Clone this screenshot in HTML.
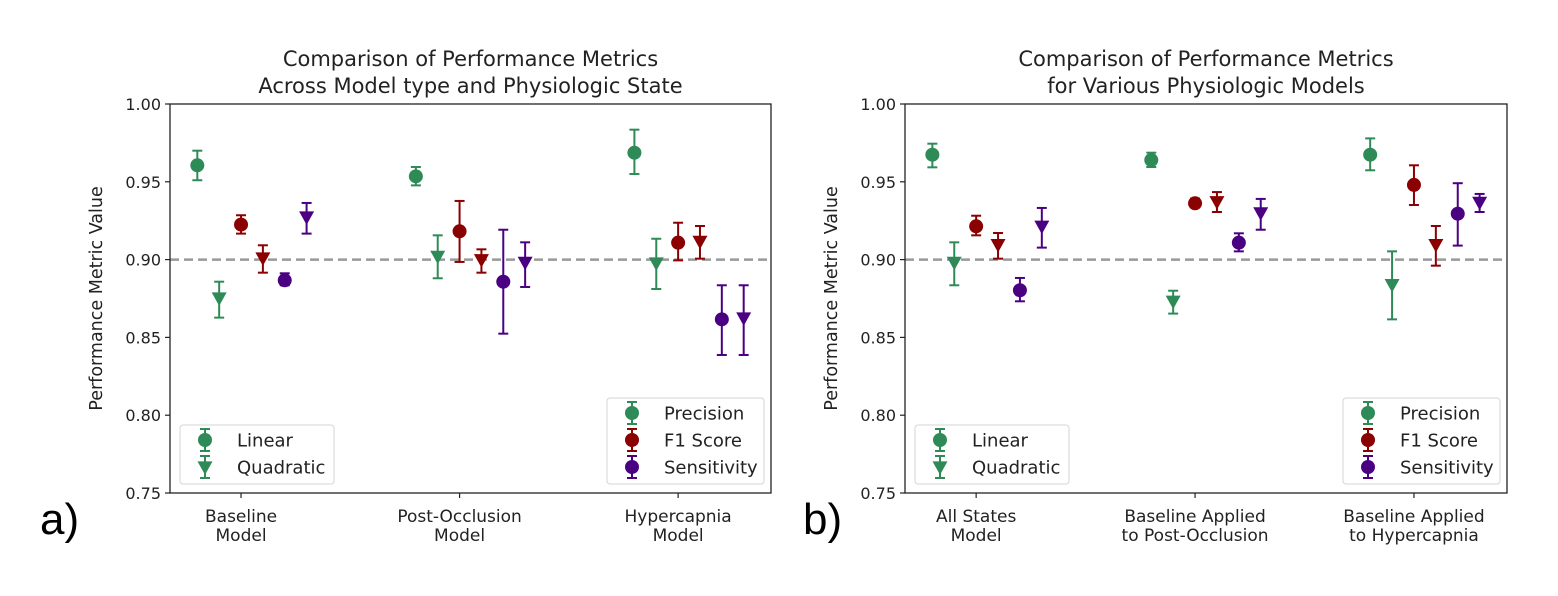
<!DOCTYPE html>
<html><head><meta charset="utf-8">
<style>
html,body{margin:0;padding:0;background:#fff;}
svg{display:block;font-family:"DejaVu Sans","Liberation Sans",sans-serif;}
</style></head>
<body>
<svg id="root" width="1558" height="596" viewBox="0 0 1558 596" xmlns="http://www.w3.org/2000/svg">
<rect width="1558" height="596" fill="#fff"/>
</svg>
<script>
// ---- data ----
const seriesNames = ["Precision Linear","Precision Quadratic","F1 Linear","F1 Quadratic","Sensitivity Linear","Sensitivity Quadratic"];
const catsA = [["Baseline","Model"],["Post-Occlusion","Model"],["Hypercapnia","Model"]];
const catsB = [["All States","Model"],["Baseline Applied","to Post-Occlusion"],["Baseline Applied","to Hypercapnia"]];
const yTicks = [0.75,0.80,0.85,0.90,0.95,1.00];
const yTickLabels = ["0.75","0.80","0.85","0.90","0.95","1.00"];
// values per category: [PL, PQ, FL, FQ, SL, SQ]
const valsA = [
  [0.9606,0.8753,0.9225,0.9010,0.8867,0.9274],
  [0.9535,0.9021,0.9182,0.8999,0.8858,0.8982],
  [0.9687,0.8978,0.9109,0.9117,0.8616,0.8625]
];
const lowA = [
  [0.951,0.8627,0.9167,0.8916,0.8835,0.9167],
  [0.9477,0.888,0.8985,0.8916,0.8524,0.8824],
  [0.955,0.8811,0.8995,0.9006,0.8387,0.8387]
];
const highA = [
  [0.970,0.8858,0.9285,0.9092,0.8912,0.9364],
  [0.9595,0.9156,0.9377,0.9066,0.9192,0.9111],
  [0.9835,0.9134,0.9237,0.9216,0.8835,0.8835]
];
const valsB = [
  [0.9674,0.8982,0.9214,0.9096,0.8803,0.9214],
  [0.9640,0.8732,0.9362,0.9372,0.9109,0.9300],
  [0.9674,0.8839,0.9480,0.9096,0.9295,0.9368]
];
const lowB = [
  [0.9593,0.8835,0.9156,0.9006,0.8732,0.9077],
  [0.9595,0.8653,0.9336,0.9306,0.9053,0.9192],
  [0.9574,0.8616,0.9351,0.8961,0.909,0.9306]
];
const highB = [
  [0.9745,0.9111,0.9282,0.9171,0.8882,0.9332],
  [0.9687,0.8800,0.9392,0.9434,0.9169,0.9390],
  [0.9779,0.9053,0.9606,0.9216,0.9491,0.9422]
];
const offsets = [-0.2,-0.1,0,0.1,0.2,0.3];
const refLine = 0.90;

// ---- drawing ----
const NS="http://www.w3.org/2000/svg";
const root=document.getElementById('root');
const colors=["#2e8b57","#2e8b57","#8b0000","#8b0000","#4b0082","#4b0082"];
const shapes=["o","v","o","v","o","v"];
function mk(tag,attrs,parent){const e=document.createElementNS(NS,tag);for(const k in attrs)e.setAttribute(k,attrs[k]);(parent||root).appendChild(e);return e;}
function marker(g,shape,x,y,c){
  if(shape==="o"){return mk('circle',{cx:x,cy:y,r:7,fill:c},g);}
  const s=7.5;return mk('polygon',{points:`${x-s},${y-s*0.75} ${x+s},${y-s*0.75} ${x},${y+s*1.05}`,fill:c},g);
}
function panel(opt){
  const L=opt.left,R=opt.right,T=104,B=493;
  const xs=v=>L+(v-(-0.325))/(2.75)*(R-L);
  const ys=v=>B-(v-0.75)/0.25*(B-T);
  const g=mk('g',{});
  
  
  const t=mk('text',{x:(L+R)/2,y:66,'text-anchor':'middle','font-size':21,fill:'#222'},g);
  
  t.textContent=opt.title[0];
  const t2=mk('text',{x:(L+R)/2,y:93,'text-anchor':'middle','font-size':21,fill:'#222'},g);
  
  t2.textContent=opt.title[1];
  const rl=mk('line',{x1:L,x2:R,y1:ys(refLine),y2:ys(refLine),stroke:'#999','stroke-width':2.5,'stroke-dasharray':'9,5'},g);
  
  yTicks.forEach((v,i)=>{
    mk('line',{x1:L-5,x2:L,y1:ys(v),y2:ys(v),stroke:'#222','stroke-width':1.2},g);
    const tl=mk('text',{x:L-9,y:ys(v)+6,'text-anchor':'end','font-size':16,fill:'#222'},g);
    
    tl.textContent=yTickLabels[i];
  });
  const yl=mk('text',{x:0,y:0,'text-anchor':'middle','font-size':17.5,fill:'#222',transform:`translate(${L-68},${(T+B)/2}) rotate(-90)`},g);
  
  yl.textContent='Performance Metric Value';
  opt.cats.forEach((c,i)=>{
    const x=xs(i);
    mk('line',{x1:x,x2:x,y1:B,y2:B+5,stroke:'#222','stroke-width':1.2},g);
    const a=mk('text',{x:x,y:522,'text-anchor':'middle','font-size':17,fill:'#222'},g);
    
    a.textContent=c[0];
    const b=mk('text',{x:x,y:541,'text-anchor':'middle','font-size':17,fill:'#222'},g);
    
    b.textContent=c[1];
  });
  for(let s=0;s<6;s++){
    const sg=mk('g',{},g);
    
    
    for(let i=0;i<3;i++){
      const x=xs(i+offsets[s]),c=colors[s];
      mk('line',{x1:x,x2:x,y1:ys(opt.low[i][s]),y2:ys(opt.high[i][s]),stroke:c,'stroke-width':2},sg);
      mk('line',{x1:x-5,x2:x+5,y1:ys(opt.low[i][s]),y2:ys(opt.low[i][s]),stroke:c,'stroke-width':2},sg);
      mk('line',{x1:x-5,x2:x+5,y1:ys(opt.high[i][s]),y2:ys(opt.high[i][s]),stroke:c,'stroke-width':2},sg);
      const m=marker(sg,shapes[s],x,ys(opt.vals[i][s]),c);
      
      
    }
  }
  mk('rect',{x:L,y:T,width:R-L,height:B-T,fill:'none',stroke:'#222','stroke-width':1.3},g);
  function legend(x,y,w,h,items,name){
    const lg=mk('g',{},g);
    
    mk('rect',{x:x,y:y,width:w,height:h,rx:3,fill:'#fff','fill-opacity':0.8,stroke:'#d5d5d5','stroke-width':1},lg);
    items.forEach((it,k)=>{
      const cy=y+15+k*27, mx=x+25;
      mk('line',{x1:mx,x2:mx,y1:cy-11,y2:cy+11,stroke:it[1],'stroke-width':2},lg);
      mk('line',{x1:mx-5,x2:mx+5,y1:cy-11,y2:cy-11,stroke:it[1],'stroke-width':2},lg);
      mk('line',{x1:mx-5,x2:mx+5,y1:cy+11,y2:cy+11,stroke:it[1],'stroke-width':2},lg);
      marker(lg,it[2],mx,cy,it[1]);
      const tx=mk('text',{x:x+57,y:cy+6.5,'font-size':18,fill:'#222'},lg);
      
      tx.textContent=it[0];
    });
  }
  legend(L+10,425,154,59,[["Linear","#2e8b57","o"],["Quadratic","#2e8b57","v"]],'legend-model-type');
  legend(R-164,398,157,86,[["Precision","#2e8b57","o"],["F1 Score","#8b0000","o"],["Sensitivity","#4b0082","o"]],'legend-metric');
  const pl=mk('text',{x:opt.labelX,y:534,'font-size':44,fill:'#000','font-family':'Liberation Sans, sans-serif'},g);
  
  pl.textContent=opt.label;
}
panel({name:'panel-a',left:170,right:771,title:["Comparison of Performance Metrics","Across Model type and Physiologic State"],cats:catsA,vals:valsA,low:lowA,high:highA,label:'a)',labelX:40});
panel({name:'panel-b',left:905,right:1507,title:["Comparison of Performance Metrics","for Various Physiologic Models"],cats:catsB,vals:valsB,low:lowB,high:highB,label:'b)',labelX:803});
</script>
</body></html>
